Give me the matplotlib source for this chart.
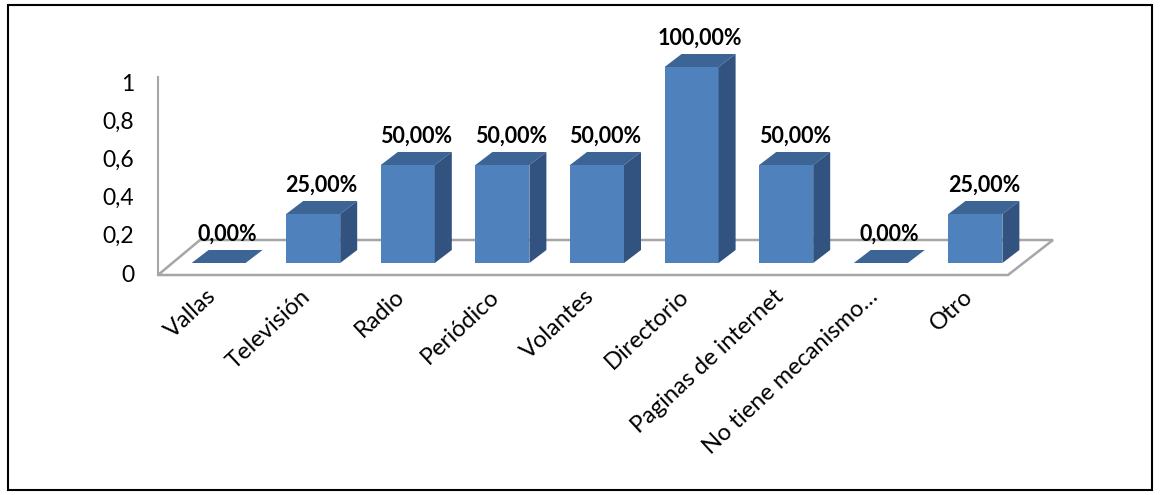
import matplotlib
matplotlib.use("Agg")
import matplotlib.pyplot as plt
from matplotlib.patches import Polygon, Rectangle
import matplotlib.transforms as mtransforms

# ---------------- data ----------------
categories = ["Vallas", "Televisión", "Radio", "Periódico", "Volantes",
              "Directorio", "Paginas de internet", "No tiene mecanismo…", "Otro"]
values = [0.0, 0.25, 0.5, 0.5, 0.5, 1.0, 0.5, 0.0, 0.25]
ytick_values = [0, 0.2, 0.4, 0.6, 0.8, 1]
ytick_labels = ["0", "0,2", "0,4", "0,6", "0,8", "1"]

# ---------------- layout (pixels) ----------------
W, H = 1160, 495
X0, STEP = 218.6, 94.6      # pixel centre of first bar, spacing
Y0, UNIT = 263.0, 196.0     # pixel of bar base, pixels per unit value


def dx(px):
    return (px - X0) / STEP


def dv(py):
    return (Y0 - py) / UNIT


FONT = "Lato"
FRONT = "#4F81BD"
TOP = "#3C6596"
SIDE = "#32537F"
GRID = "#A6A6A6"

fig = plt.figure(figsize=(W / 100, H / 100), dpi=100)
ax = fig.add_axes([158 / W, (H - 275) / H, (1060 - 158) / W, (275 - 20) / H])
ax.set_xlim(dx(158), dx(1060))
ax.set_ylim(dv(275), dv(20))
for s in ax.spines.values():
    s.set_visible(False)
ax.set_yticks([])

# floor
floor = Polygon([(dx(158), dv(275)), (dx(1008), dv(275)), (dx(1053), dv(240)),
                 (dx(200), dv(240))], closed=True, facecolor="white",
                edgecolor=GRID, lw=1.8, zorder=1, clip_on=False)
ax.add_patch(floor)
# vertical axis line
ax.plot([dx(158), dx(158)], [dv(275), dv(77)], color=GRID, lw=1.5,
        zorder=1, clip_on=False)

# bars
xs = list(range(len(categories)))
bw = 54 / STEP
ddx, ddy = 17 / STEP, 13 / UNIT
ax.bar(xs, values, width=bw, color=FRONT, zorder=3, linewidth=0)
for x, v in zip(xs, values):
    l, r = x - bw / 2, x + bw / 2
    top = Polygon([(l, v), (r, v), (r + ddx, v + ddy), (l + ddx, v + ddy)],
                  closed=True, facecolor=TOP, edgecolor="none", zorder=4)
    ax.add_patch(top)
    if v > 0:
        side = Polygon([(r, 0), (r + ddx, ddy), (r + ddx, v + ddy), (r, v)],
                       closed=True, facecolor=SIDE, edgecolor="none", zorder=4)
        ax.add_patch(side)
    label = f"{v * 100:.2f}%".replace(".", ",")
    ax.text(x + ddx / 2, v + ddy + 5 / UNIT, label, ha="center", va="bottom",
            fontsize=15.5, fontweight="bold", family=FONT, color="black",
            zorder=5, clip_on=False)

# category labels
ax.set_xticks(xs)
ax.set_xticklabels(categories, rotation=43, ha="right", va="center",
                   rotation_mode="anchor", fontsize=17, family=FONT)
ax.tick_params(axis="x", length=0, pad=13)
offset = mtransforms.ScaledTranslation(-6 / 100, 0, fig.dpi_scale_trans)
for t in ax.get_xticklabels():
    t.set_transform(t.get_transform() + offset)

# value axis (front of floor scale)
sec = ax.secondary_yaxis(
    "left",
    functions=(lambda v: (273 - Y0 + UNIT * v) / 191,
               lambda a: (191 * a - 273 + Y0) / UNIT))
sec.set_yticks(ytick_values)
sec.set_yticklabels(ytick_labels, fontsize=16.5, family=FONT)
sec.tick_params(length=0, pad=17)
for s in sec.spines.values():
    s.set_visible(False)

# outer border
fig.patches.append(Rectangle((8 / W, 5 / H), (1152 - 8) / W, (490 - 5) / H,
                             transform=fig.transFigure, fill=False,
                             edgecolor="black", lw=1.5))

fig.savefig("out.png", dpi=100)
